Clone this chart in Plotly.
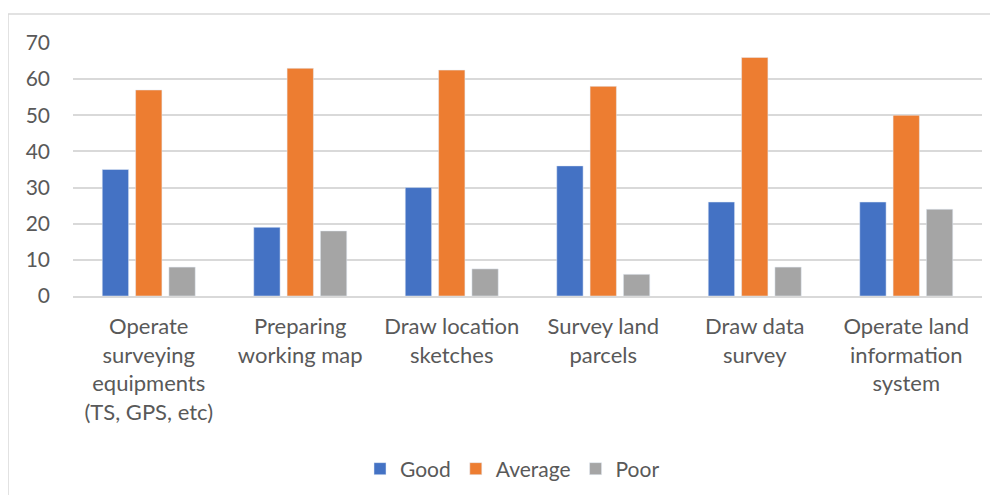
import plotly.graph_objects as go

categories = [
    "Operate<br>surveying<br>equipments<br>(TS, GPS, etc)",
    "Preparing<br>working map",
    "Draw location<br>sketches",
    "Survey land<br>parcels",
    "Draw data<br>survey",
    "Operate land<br>information<br>system",
]
good = [35, 19, 30, 36, 26, 26]
average = [57, 63, 62.5, 58, 66, 50]
poor = [8, 18, 7.5, 6, 8, 24]

# the page adds an 8px body margin, so the figure is sized to fit inside it
W, H = 982, 487
font_family = "Lato, Noto Sans, sans-serif"
text_color = "#595959"
border = "#D9D9D9"

fig = go.Figure()
fig.add_trace(go.Bar(x=categories, y=good, name="Good", marker_color="#4472C4"))
fig.add_trace(go.Bar(x=categories, y=average, name="Average", marker_color="#ED7D31"))
fig.add_trace(go.Bar(x=categories, y=poor, name="Poor", marker_color="#A5A5A5"))

plot_w = W - 65 - 8
plot_h = H - 35 - 198

fig.update_layout(
    width=W,
    height=H,
    margin=dict(l=65, r=8, t=35, b=198),
    paper_bgcolor="white",
    plot_bgcolor="white",
    barmode="group",
    bargap=0.34,
    bargroupgap=0.21,
    font=dict(family=font_family, size=21, color=text_color),
    legend=dict(
        orientation="h",
        x=0.5 - 15 / plot_w,
        xanchor="center",
        y=-172 / plot_h,
        yanchor="middle",
        font=dict(size=21, color=text_color),
        itemwidth=30,
    ),
    shapes=[
        dict(type="line", xref="paper", yref="paper",
             x0=-65 / plot_w, x1=1.2, y0=1 + 29 / plot_h, y1=1 + 29 / plot_h,
             line=dict(color=border, width=1.5)),
        dict(type="line", xref="paper", yref="paper",
             x0=-65 / plot_w, x1=-65 / plot_w, y0=1 + 29 / plot_h, y1=-1.0,
             line=dict(color=border, width=1.5)),
    ],
)

fig.update_xaxes(
    showline=True,
    linecolor=border,
    linewidth=1.5,
    showgrid=False,
    ticks="",
    tickfont=dict(size=22, color=text_color),
    ticklabelstandoff=10,
)
fig.update_yaxes(
    range=[0, 70],
    dtick=10,
    showgrid=True,
    gridcolor=border,
    gridwidth=1.5,
    zeroline=False,
    showline=False,
    ticks="",
    tickfont=dict(size=21, color=text_color),
    ticklabelstandoff=22,
)

fig.write_html("out.html")
